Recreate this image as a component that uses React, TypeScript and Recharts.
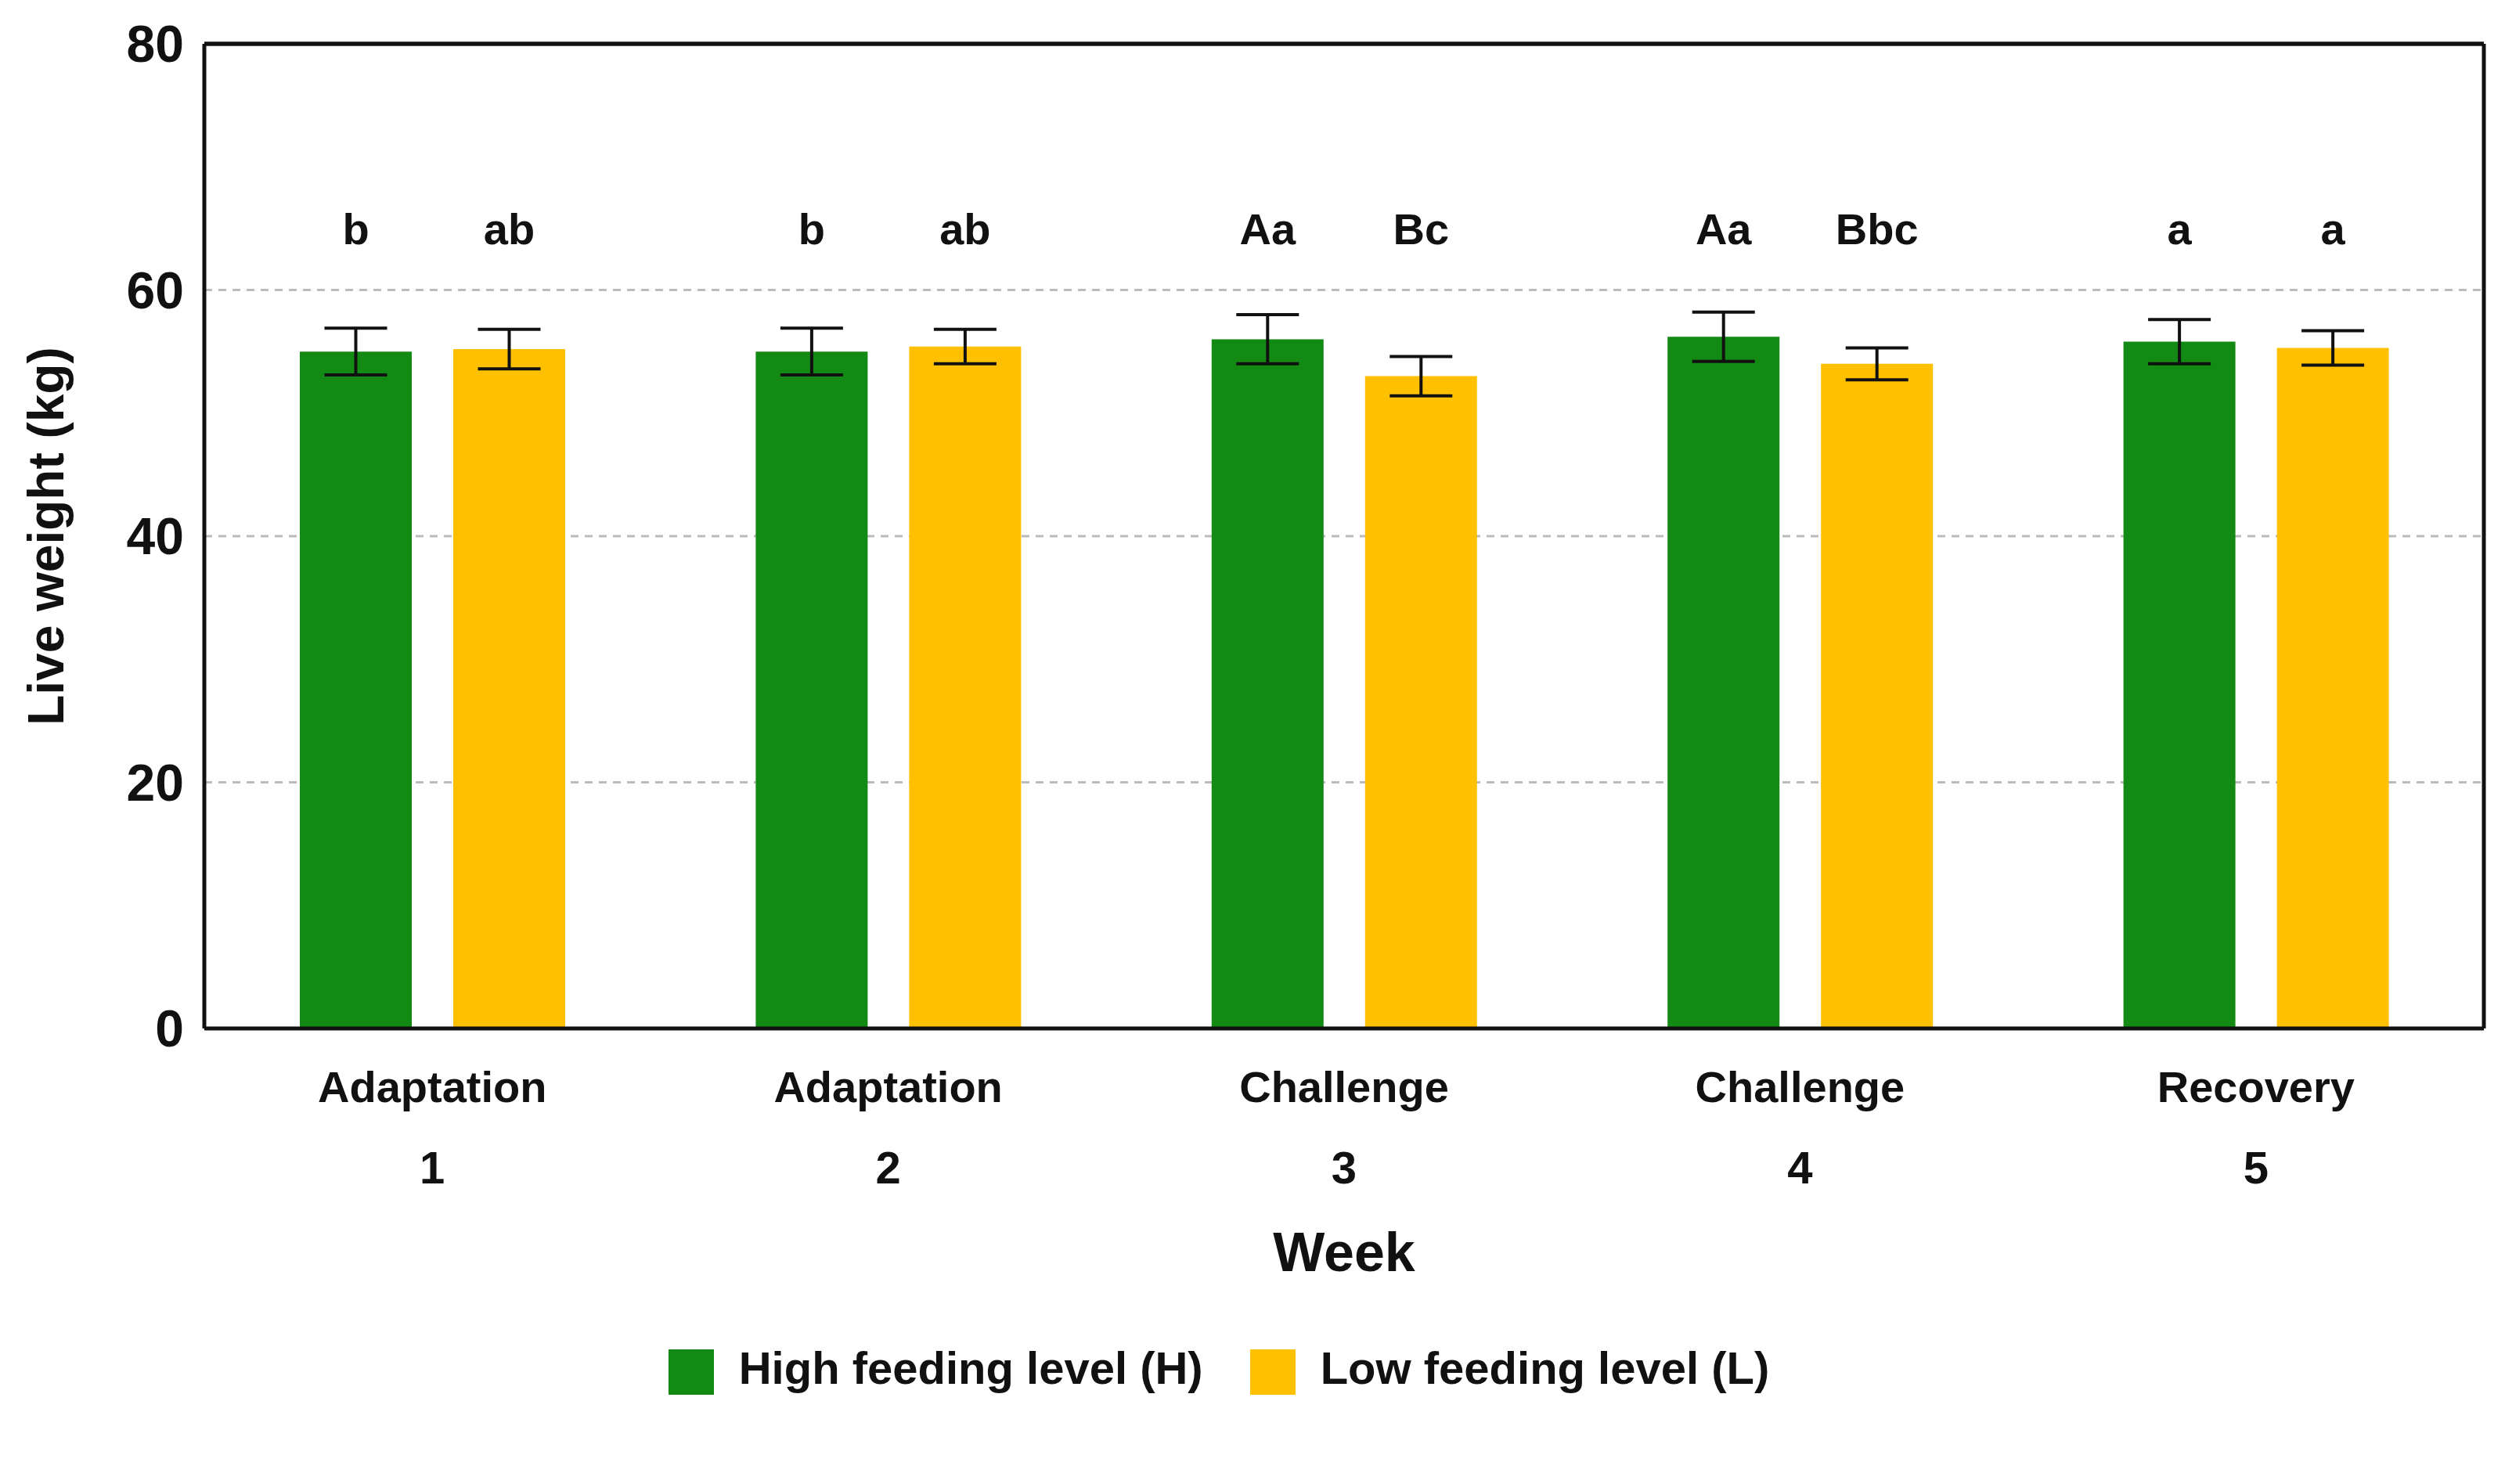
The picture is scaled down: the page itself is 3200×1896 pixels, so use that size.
import { BarChart, Bar, XAxis, YAxis, CartesianGrid, Legend, ErrorBar, LabelList, ReferenceLine } from 'recharts';

const phases = ["Adaptation", "Adaptation", "Challenge", "Challenge", "Recovery"];
const weeks = ["1", "2", "3", "4", "5"];
const highValues = [55.0, 55.0, 56.0, 56.2, 55.8];
const highErrors = [1.9, 1.9, 2.0, 2.0, 1.8];
const lowValues = [55.2, 55.4, 53.0, 54.0, 55.3];
const lowErrors = [1.6, 1.4, 1.6, 1.3, 1.4];
const highLetters = ["b", "b", "Aa", "Aa", "a"];
const lowLetters = ["ab", "ab", "Bc", "Bbc", "a"];
const yTicks = [0, 20, 40, 60, 80];

const data = weeks.map((w, i) => ({
    week: w,
    phase: phases[i],
    high: highValues[i],
    highErr: highErrors[i],
    low: lowValues[i],
    lowErr: lowErrors[i],
    highLetter: highLetters[i],
    lowLetter: lowLetters[i],
}));

const FONT = "'Liberation Sans', Arial, sans-serif";
const PLOT_TOP = 55;
// baseline of the significance letters
const LETTER_Y = 312;

function WeekTick(props: any) {
    const { x, y, payload, index } = props;
    return (
        <g>
            <text x={x} y={y + 86} textAnchor="middle" fontFamily={FONT} fontWeight="bold" fontSize={56} fill="#111">
                {phases[index]}
            </text>
            <text x={x} y={y + 190} textAnchor="middle" fontFamily={FONT} fontWeight="bold" fontSize={58} fill="#111">
                {payload.value}
            </text>
        </g>
    );
}

function Letter(props: any) {
    const { x, width, value } = props;
    return (
        <text x={x + width / 2} y={LETTER_Y} textAnchor="middle" fontFamily={FONT} fontWeight="bold" fontSize={56} fill="#111">
            {value}
        </text>
    );
}

function App() {
    return (
        <div style={{ margin: -8, width: 3200, height: 1896, background: "#fff" }}>
            <BarChart
                width={3200}
                height={1896}
                data={data}
                margin={{ top: PLOT_TOP, right: 26, left: 0, bottom: 0 }}
                barSize={143}
                barGap={53}
            >
                <CartesianGrid vertical={false} stroke="#bbb" strokeWidth={3} strokeDasharray="10 8" />
                <XAxis
                    dataKey="week"
                    tick={<WeekTick />}
                    tickLine={false}
                    axisLine={{ stroke: "#111", strokeWidth: 5 }}
                    height={270}
                    interval={0}
                    label={{ value: "Week", position: "insideBottom", offset: -40, fontFamily: FONT, fontWeight: "bold", fontSize: 70, fill: "#111" }}
                />
                <XAxis xAxisId="top" orientation="top" dataKey="week" tick={false} tickLine={false} height={1} axisLine={{ stroke: "#111", strokeWidth: 5 }} />
                <YAxis
                    domain={[0, 80]}
                    ticks={yTicks}
                    tickLine={false}
                    axisLine={{ stroke: "#111", strokeWidth: 5 }}
                    width={261}
                    tick={{ fontFamily: FONT, fontWeight: "bold", fontSize: 66, fill: "#111" }}
                    tickMargin={20}
                    label={{ value: "Live weight (kg)", angle: -90, position: "insideLeft", offset: 58, style: { textAnchor: "middle" }, fontFamily: FONT, fontWeight: "bold", fontSize: 64, fill: "#111" }}
                />
                <YAxis yAxisId="r" orientation="right" domain={[0, 80]} tick={false} tickLine={false} width={1} axisLine={{ stroke: "#111", strokeWidth: 5 }} />
                <ReferenceLine y={80} stroke="#111" strokeWidth={5} />
                <Legend
                    verticalAlign="bottom"
                    height={182}
                    iconType="square"
                    iconSize={58}
                    wrapperStyle={{ fontFamily: FONT, fontWeight: "bold", fontSize: 58, paddingTop: 130 }}
                    formatter={(v: string) => <span style={{ color: "#111", marginLeft: 28, marginRight: 50 }}>{v}</span>}
                />
                <Bar dataKey="high" name="High feeding level (H)" fill="#138a13" isAnimationActive={false}>
                    <ErrorBar dataKey="highErr" width={40} stroke="#111" strokeWidth={4} />
                    <LabelList dataKey="highLetter" content={<Letter />} />
                </Bar>
                <Bar dataKey="low" name="Low feeding level (L)" fill="#ffc000" isAnimationActive={false}>
                    <ErrorBar dataKey="lowErr" width={40} stroke="#111" strokeWidth={4} />
                    <LabelList dataKey="lowLetter" content={<Letter />} />
                </Bar>
            </BarChart>
        </div>
    );
}

export default App;
